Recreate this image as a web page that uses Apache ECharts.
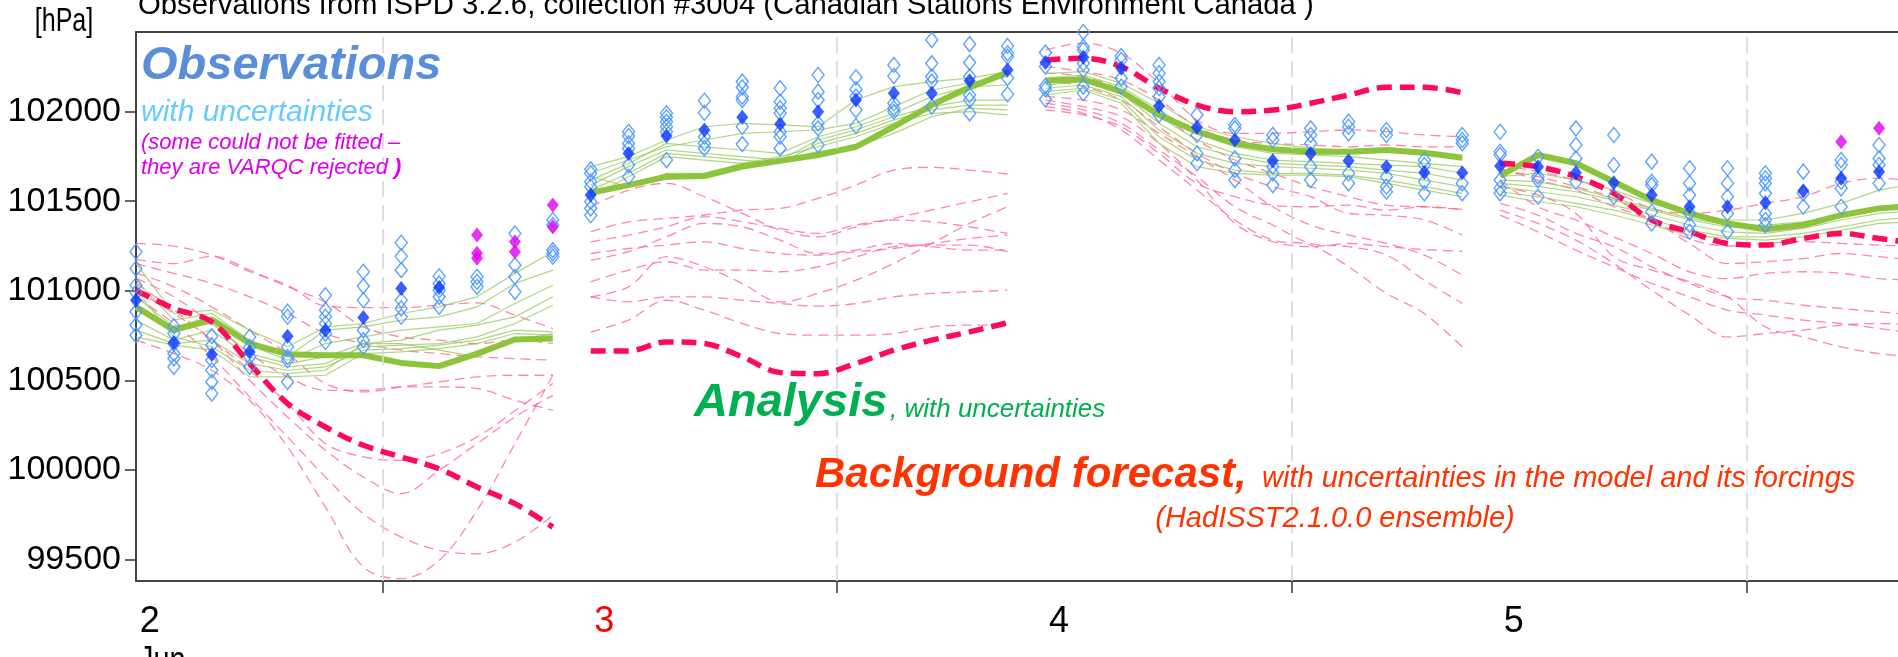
<!DOCTYPE html>
<html><head><meta charset="utf-8">
<script src="https://cdn.jsdelivr.net/npm/echarts@6/dist/echarts.min.js"></script>
<style>html,body{margin:0;padding:0;background:#fff;}#c{width:1898px;height:657px;}</style>
</head><body><div id="c"></div>
<script>
// ---- time axis (hours from 2 Jun 00:00) ----
const hours1 = [-1, 1, 3, 5, 7, 9, 11, 13, 15, 17, 19, 21];
const hours2 = [23, 25, 27, 29, 31, 33, 35, 37, 39, 41, 43, 45];
const hours3 = [47, 49, 51, 53, 55, 57, 59, 61, 63, 65, 67, 69];
const hours4 = [71, 73, 75, 77, 79, 81, 83, 85, 87, 89, 91, 93];
const dayHours = [0, 24, 48, 72];
const dayLabels = ['2', '3', '4', '5'];
const noonHours = [12, 36, 60, 84];
const yTicks = [99500, 100000, 100500, 101000, 101500, 102000];

// ---- background forecast (ensemble mean, thick dashed) ----
const bgMain1 = [101003, 100901, 100826, 100593, 100370, 100239, 100137, 100072, 100006, 99904, 99811, 99680];
const bgMain2 = [100664, 100664, 100714, 100705, 100631, 100543, 100537, 100594, 100668, 100724, 100770, 100821];
const bgMain3 = [102289, 102298, 102252, 102131, 102037, 102000, 102009, 102047, 102093, 102136, 102136, 102106];
const bgMain4 = [101712, 101693, 101637, 101544, 101395, 101329, 101264, 101255, 101292, 101320, 101292, 101265];

// ---- background forecast ensemble members ----
const bgEns1 = [
  [101264, 101249, 101199, 101106, 101031, 100914, 100906, 100906, 100919, 100932, 100864, 100789],
  [101175, 101152, 101193, 101115, 101022, 100938, 100798, 100742, 100724, 100705, 100724, 100705],
  [101152, 101097, 101041, 100966, 100873, 100761, 100705, 100668, 100649, 100631, 100621, 100612],
  [101100, 101022, 100910, 100780, 100649, 100482, 100435, 100463, 100491, 100519, 100528, 100528],
  [101069, 100966, 100817, 100649, 100519, 100444, 100444, 100463, 100463, 100454, 100388, 100333],
  [101041, 100892, 100724, 100556, 100370, 100146, 100072, 100053, 100090, 100183, 100330, 100482],
  [100966, 100817, 100631, 100407, 100183, 99960, 99755, 99624, 99550, 99531, 99596, 99746],
  [100724, 100649, 100556, 100388, 100128, 99792, 99457, 99392, 99494, 99773, 100146, 100528],
  [101003, 100873, 100724, 100500, 100295, 100109, 99960, 99867, 99997, 100146, 100295, 100416]
];
const bgEns2 = [
  [101329, 101385, 101404, 101423, 101451, 101460, 101516, 101590, 101674, 101689, 101674, 101652],
  [101469, 101562, 101600, 101525, 101432, 101339, 101301, 101357, 101404, 101451, 101497, 101544],
  [101273, 101311, 101357, 101413, 101385, 101348, 101320, 101367, 101395, 101385, 101357, 101320],
  [101208, 101236, 101255, 101273, 101236, 101208, 101199, 101218, 101236, 101264, 101292, 101311],
  [101171, 101218, 101301, 101376, 101357, 101283, 101208, 101227, 101264, 101246, 101227, 101227],
  [101050, 101115, 101162, 101115, 101115, 101106, 101134, 101190, 101246, 101255, 101255, 101218],
  [100966, 100938, 100966, 100966, 100947, 100929, 100914, 100929, 100966, 100985, 100994, 101003],
  [100966, 101022, 101190, 101134, 101041, 100938, 100985, 101059, 101153, 101264, 101376, 101469],
  [100770, 100836, 100947, 100892, 100817, 100761, 100752, 100752, 100761, 100798, 100808, 100808]
];
const bgEns3 = [
  [102345, 102382, 102326, 102159, 101954, 101879, 101879, 101888, 101898, 101888, 101870, 101860],
  [102252, 102224, 102177, 102065, 101916, 101842, 101823, 101814, 101804, 101814, 101804, 101804],
  [102215, 102196, 102121, 101991, 101842, 101730, 101656, 101581, 101525, 101478, 101469, 101454],
  [102177, 102140, 102065, 101916, 101767, 101656, 101581, 101525, 101432, 101422, 101395, 101311],
  [102084, 102065, 102010, 101879, 101749, 101618, 101469, 101367, 101311, 101264, 101199, 101087],
  [102047, 102010, 101935, 101786, 101637, 101469, 101367, 101264, 101246, 101199, 101059, 100929],
  [102028, 101991, 101898, 101730, 101562, 101395, 101283, 101255, 101134, 100985, 100873, 100686],
  [102065, 102028, 101972, 101823, 101618, 101376, 101274, 101246, 101264, 101246, 101230, 101220],
  [102010, 101982, 101916, 101767, 101600, 101525, 101478, 101469, 101478, 101450, 101469, 101454]
];
const bgEns4 = [
  [101702, 101665, 101618, 101553, 101460, 101432, 101450, 101488, 101525, 101600, 101628, 101610],
  [101684, 101618, 101562, 101469, 101395, 101264, 101152, 101162, 101180, 101208, 101190, 101171],
  [101618, 101469, 101395, 101301, 101208, 101106, 101068, 101097, 101106, 101097, 101068, 101059],
  [101488, 101422, 101320, 101246, 101134, 101041, 100966, 100947, 100919, 100901, 100882, 100864],
  [101422, 101329, 101227, 101134, 101041, 100966, 100892, 100864, 100836, 100817, 100789, 100761],
  [101450, 101376, 101283, 101152, 101003, 100864, 100742, 100761, 100780, 100808, 100817, 100808],
  [101581, 101534, 101432, 101190, 101115, 101050, 100966, 100798, 100742, 100687, 100649, 100631],
  [101674, 101637, 101581, 101516, 101395, 101290, 101250, 101264, 101274, 101264, 101255, 101246]
];

// ---- analysis (ensemble mean, thick) ----
const anaMain1 = [100910, 100780, 100839, 100705, 100646, 100640, 100640, 100597, 100579, 100649, 100728, 100733];
const anaMain2 = [101547, 101590, 101637, 101641, 101693, 101726, 101758, 101804, 101916, 102037, 102136, 102218];
const anaMain3 = [102173, 102181, 102112, 101982, 101888, 101823, 101790, 101776, 101776, 101786, 101771, 101743];
const anaMain4 = [101642, 101758, 101712, 101609, 101506, 101432, 101376, 101343, 101367, 101422, 101460, 101475];

// ---- analysis ensemble members ----
const anaEns1 = [
  [101152, 100873, 100892, 100780, 100687, 100798, 100817, 100873, 100910, 100966, 101097, 101218],
  [101059, 100836, 100873, 100724, 100631, 100780, 100798, 100836, 100854, 100910, 101041, 101115],
  [100966, 100798, 100854, 100696, 100612, 100705, 100742, 100780, 100798, 100817, 100929, 101031],
  [100892, 100780, 100817, 100649, 100593, 100631, 100705, 100724, 100780, 100808, 100854, 100966],
  [100836, 100724, 100780, 100631, 100575, 100593, 100687, 100696, 100705, 100742, 100817, 100919],
  [100780, 100705, 100724, 100593, 100556, 100575, 100668, 100677, 100696, 100724, 100780, 100770],
  [100742, 100696, 100668, 100519, 100519, 100528, 100649, 100659, 100677, 100705, 100761, 100752],
  [101003, 100742, 100687, 100556, 100537, 100556, 100705, 100705, 100668, 100631, 100724, 100761]
];
const anaEns2 = [
  [101693, 101749, 101842, 101916, 101935, 101926, 101916, 102065, 102140, 102168, 102187, 102224],
  [101656, 101730, 101804, 101842, 101879, 101888, 101898, 101935, 102028, 102121, 102159, 102196],
  [101618, 101711, 101823, 101804, 101786, 101767, 101860, 101916, 101991, 102084, 102140, 102149],
  [101590, 101693, 101786, 101767, 101749, 101730, 101842, 101898, 101972, 102028, 102065, 102065],
  [101562, 101656, 101767, 101749, 101730, 101711, 101823, 101879, 101954, 102010, 102037, 102037],
  [101525, 101637, 101749, 101730, 101711, 101749, 101804, 101860, 101935, 101991, 102000, 101982],
  [101637, 101581, 101656, 101656, 101711, 101730, 101777, 101804, 101879, 101972, 102019, 102010]
];
const anaEns3 = [
  [102214, 102224, 102159, 102047, 101916, 101860, 101823, 101795, 101786, 101777, 101758, 101749],
  [102187, 102205, 102140, 102010, 101879, 101804, 101767, 101758, 101749, 101730, 101711, 101693],
  [102168, 102187, 102121, 101972, 101842, 101767, 101730, 101721, 101711, 101702, 101693, 101656],
  [102149, 102168, 102103, 101935, 101804, 101749, 101711, 101702, 101693, 101674, 101656, 101618],
  [102131, 102149, 102084, 101898, 101767, 101711, 101693, 101684, 101674, 101656, 101618, 101581],
  [102112, 102131, 102065, 101860, 101730, 101674, 101656, 101656, 101646, 101618, 101581, 101544],
  [102093, 102121, 102047, 101823, 101693, 101656, 101646, 101646, 101637, 101600, 101562, 101525]
];
const anaEns4 = [
  [101637, 101656, 101618, 101562, 101488, 101432, 101395, 101395, 101432, 101488, 101562, 101600],
  [101600, 101581, 101553, 101506, 101450, 101395, 101357, 101348, 101376, 101432, 101469, 101488],
  [101581, 101553, 101525, 101478, 101423, 101367, 101329, 101320, 101348, 101395, 101432, 101450],
  [101553, 101525, 101488, 101450, 101395, 101339, 101301, 101301, 101320, 101357, 101395, 101413],
  [101618, 101609, 101572, 101516, 101460, 101404, 101367, 101367, 101385, 101423, 101450, 101460],
  [101534, 101497, 101469, 101423, 101367, 101311, 101292, 101283, 101301, 101339, 101376, 101385]
];

// ---- observations (open diamonds, per time column) ----
const obs1 = [
  [101218, 101124, 101031, 100990, 100882, 100808, 100752],
  [100802, 100761, 100705, 100649, 100622, 100575],
  [100746, 100696, 100612, 100556, 100491, 100426],
  [100742, 100686, 100630, 100575],
  [100883, 100855, 100686, 100630, 100612, 100491],
  [100975, 100892, 100855, 100817, 100761, 100714],
  [101106, 101026, 100947, 100780, 100724, 100686],
  [101268, 101193, 101115, 100947, 100901, 100855],
  [101081, 101040, 101003, 100966, 100910],
  [101078, 101050, 101022],
  [101320, 101143, 101078, 100994],
  [101395, 101367, 101227, 101209, 101190]
];
const obs2 = [
  [101678, 101656, 101609, 101581, 101497, 101460, 101422],
  [101888, 101864, 101823, 101795, 101702, 101637],
  [101991, 101969, 101944, 101916, 101888, 101730],
  [102061, 101994, 101860, 101823, 101795],
  [102168, 102136, 102084, 102065, 101916, 101819],
  [102131, 102056, 102019, 101991, 101888, 101860, 101795],
  [102205, 102112, 102065, 101935, 101907, 101814],
  [102192, 102125, 102084, 102009, 101920],
  [102261, 102199, 102047, 102019, 102000],
  [102401, 102270, 102196, 102168, 102028],
  [102377, 102274, 102196, 102093, 102065, 101991],
  [102367, 102326, 102307, 102188, 102097]
];
const obs3 = [
  [102330, 102252, 102144, 102125, 102069],
  [102445, 102363, 102345, 102270, 102233, 102140, 102103],
  [102311, 102289, 102186, 102140],
  [102261, 102215, 102168, 102131, 102084, 101982],
  [101982, 101870, 101767, 101712],
  [101926, 101907, 101739, 101674, 101618],
  [101870, 101842, 101693, 101656, 101590],
  [101907, 101870, 101823, 101693, 101618],
  [101944, 101916, 101879, 101656, 101600],
  [101898, 101870, 101637, 101581, 101553],
  [101730, 101702, 101609, 101544],
  [101870, 101842, 101823, 101600, 101544]
];
const obs4 = [
  [101888, 101776, 101758, 101618, 101572, 101544],
  [101748, 101637, 101618, 101525],
  [101907, 101814, 101739, 101609],
  [101870, 101702, 101525],
  [101721, 101609, 101590, 101441, 101376],
  [101684, 101600, 101534, 101432, 101367, 101329],
  [101684, 101600, 101525, 101432, 101329],
  [101656, 101628, 101600, 101544, 101432, 101395, 101367],
  [101665, 101544, 101469],
  [101730, 101702, 101609, 101572, 101469],
  [101814, 101739, 101702, 101600]
];
// observation ensemble-mean (filled blue diamonds)
const obsMean1 = [100947, 100709, 100644, 100658, 100746, 100780, 100851, 101013, 101018, null, null, null];
const obsMean2 = [101534, 101767, 101864, 101898, 101969, 101931, 102000, 102065, 102103, 102103, 102173, 102233];
const obsMean3 = [102275, 102304, 102243, 102032, 101913, 101842, 101726, 101767, 101726, 101693, 101661, 101659];
const obsMean4 = [101697, 101693, 101659, 101603, 101534, 101469, 101469, 101492, 101558, 101628, 101665];
// VARQC rejected observations [hour, value]
const rejected = [[17, 101311], [17, 101209], [17, 101181], [19, 101274], [19, 101218], [21, 101479], [21, 101358], [89, 101832], [91, 101907]];

// ================= build =================
const segHours = [hours1, hours2, hours3, hours4];
const bgMain = [bgMain1, bgMain2, bgMain3, bgMain4];
const bgEns = [bgEns1, bgEns2, bgEns3, bgEns4];
const anaMain = [anaMain1, anaMain2, anaMain3, anaMain4];
const anaEns = [anaEns1, anaEns2, anaEns3, anaEns4];
const obsAll = [obs1, obs2, obs3, obs4];
const obsMeanAll = [obsMean1, obsMean2, obsMean3, obsMean4];

const pts = (hrs, vals) => vals.map((v, i) => [hrs[i], v]);
const series = [];
series.push({
  type: 'line', data: [], silent: true, z: 1,
  markLine: {
    silent: true, symbol: 'none', animation: false,
    label: { show: false },
    lineStyle: { color: '#d8d8d8', width: 1.6, type: [16, 8] },
    data: noonHours.map(h => ({ xAxis: h }))
  }
});
segHours.forEach((hrs, s) => {
  bgEns[s].forEach(m => series.push({
    type: 'line', data: pts(hrs, m), smooth: 0.35, symbol: 'none', z: 2, silent: true,
    lineStyle: { color: 'rgba(255,95,140,0.75)', width: 1.3, type: [10, 6] }
  }));
});
segHours.forEach((hrs, s) => {
  anaEns[s].forEach(m => series.push({
    type: 'line', data: pts(hrs, m), symbol: 'none', z: 3, silent: true,
    lineStyle: { color: 'rgba(150,200,90,0.75)', width: 1.2 }
  }));
});
segHours.forEach((hrs, s) => {
  series.push({
    type: 'line', data: pts(hrs, anaMain[s]), symbol: 'none', z: 4, silent: true,
    lineStyle: { color: '#8cc43c', width: 6 }
  });
});
segHours.forEach((hrs, s) => {
  series.push({
    type: 'line', data: pts(hrs, bgMain[s]), smooth: 0.35, symbol: 'none', z: 5, silent: true,
    lineStyle: { color: '#ff0a5a', width: 5.5, type: [15, 8] }
  });
});
const openData = [], meanData = [];
segHours.forEach((hrs, s) => {
  obsAll[s].forEach((col, i) => col.forEach(v => openData.push([hrs[i], v])));
  obsMeanAll[s].forEach((v, i) => { if (v !== null) meanData.push([hrs[i], v]); });
});
series.push({
  type: 'scatter', data: openData, symbol: 'diamond', symbolSize: [12, 15], z: 6, clip: false,
  itemStyle: { color: 'rgba(255,255,255,0)', borderColor: '#4a98ff', borderWidth: 1.4, opacity: 0.9 }
});
series.push({
  type: 'scatter', data: meanData, symbol: 'diamond', symbolSize: [12, 15], z: 7, clip: false,
  itemStyle: { color: '#0a36ff' }
});
series.push({
  type: 'scatter', data: rejected, symbol: 'diamond', symbolSize: [12, 15], z: 7, clip: false,
  itemStyle: { color: '#e000f0' }
});

const sans = '"Liberation Sans", Arial, sans-serif';
const txt = (text, x, y, font, fill, align, sx) => ({
  type: 'text', z: 100, silent: true, x, y, scaleX: sx || 1,
  style: { text, x: 0, y: 0, font, fill, textAlign: align || 'left', textVerticalAlign: 'middle', verticalAlign: 'middle' }
});

const chart = echarts.init(document.getElementById('c'), null, { renderer: 'canvas' });
chart.setOption({
  animation: false,
  backgroundColor: '#fff',
  textStyle: { fontFamily: sans },
  grid: { left: 136, top: 32, right: 0, bottom: 76, containLabel: false, outerBoundsMode: 'none' },
  xAxis: [{
    type: 'value', min: -1, max: 92,
    axisLine: { show: true, onZero: false, lineStyle: { color: '#444', width: 2 } },
    axisTick: { show: true, customValues: noonHours, length: 12, inside: false, lineStyle: { color: '#333', width: 1.5 } },
    axisLabel: {
      show: true, customValues: dayHours.map(h => h + 0.25), margin: 23, align: 'right',
      formatter: v => { const i = Math.round(v / 24); return i === 1 ? '{r|' + dayLabels[i] + '}' : '{k|' + dayLabels[i] + '}'; },
      rich: {
        k: { color: '#000', fontSize: 36, fontFamily: sans },
        r: { color: '#ff0000', fontSize: 36, fontFamily: sans }
      }
    },
    splitLine: { show: false }
  }, {
    type: 'value', min: -1, max: 92, position: 'top',
    axisLine: { show: true, onZero: false, lineStyle: { color: '#444', width: 2 } },
    axisTick: { show: false }, axisLabel: { show: false }, splitLine: { show: false }
  }],
  yAxis: {
    type: 'value', min: 99379, max: 102445,
    axisLine: { show: true, onZero: false, lineStyle: { color: '#444', width: 2 } },
    axisTick: { show: true, customValues: yTicks, length: 11, lineStyle: { color: '#333', width: 1.5 } },
    axisLabel: { show: true, customValues: yTicks, margin: 15, color: '#000', fontSize: 34, fontFamily: sans, formatter: v => String(v) },
    splitLine: { show: false }
  },
  series,
  graphic: [
    txt('Observations from ISPD 3.2.6, collection #3004 (Canadian Stations Environment Canada )', 138, 6, '29.3px ' + sans, '#000'),
    txt('[hPa]', 64, 22, '33px ' + sans, '#000', 'center', 0.76),
    txt('Observations', 141, 66, 'italic bold 47px ' + sans, '#5a8fd8'),
    txt('with uncertainties', 141, 113, 'italic 30px ' + sans, '#66ccff'),
    txt('(some could not be fitted \u2013', 141, 143, 'italic 22px ' + sans, '#dd00ee'),
    txt('they are VARQC rejected', 141, 168, 'italic 22px ' + sans, '#dd00ee'),
    txt(')', 394, 168, 'italic bold 22px ' + sans, '#dd00ee'),
    txt('Analysis', 694, 403, 'italic bold 47px ' + sans, '#00b050'),
    txt(', with uncertainties', 890, 410, 'italic 26px ' + sans, '#00b050'),
    txt('Background forecast,', 815, 475, 'italic bold 42px ' + sans, '#ff3300'),
    txt(' with uncertainties in the model and its forcings', 1254, 479, 'italic 29px ' + sans, '#ff3300'),
    txt('(HadISST2.1.0.0 ensemble)', 1335, 519, 'italic 29px ' + sans, '#ff3300', 'center'),
    txt('Jun', 139, 662, '36px ' + sans, '#000', 'left', 0.8)
  ]
});
</script></body></html>
